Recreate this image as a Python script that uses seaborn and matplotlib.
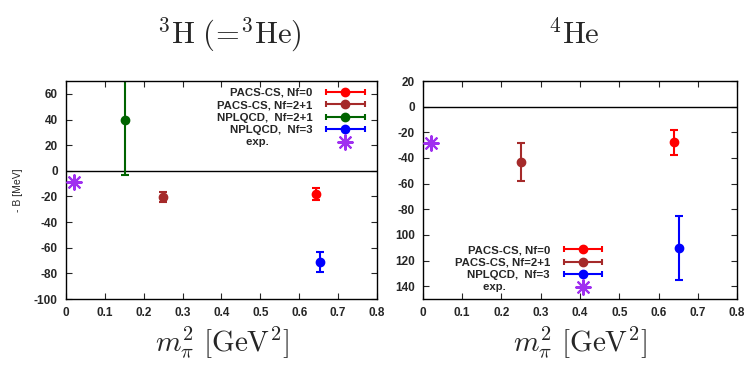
import numpy as np
import pandas as pd
import matplotlib
matplotlib.use("Agg")
import matplotlib.pyplot as plt
import seaborn as sns
from matplotlib.lines import Line2D
from matplotlib.legend_handler import HandlerBase
from matplotlib.container import ErrorbarContainer

sns.set_style("ticks")
plt.rcParams["font.family"] = ["Liberation Sans", "DejaVu Sans"]
plt.rcParams["font.weight"] = "bold"
plt.rcParams["mathtext.fontset"] = "cm"
plt.rcParams["axes.unicode_minus"] = False

# 3H data
h3_labels = ["PACS-CS, Nf=0", "PACS-CS, Nf=2+1", "NPLQCD,  Nf=2+1", "NPLQCD,  Nf=3"]
h3_x = [0.643, 0.250, 0.151, 0.653]
h3_y = [-18.2, -20.5, 40.0, -71.0]
h3_err = [4.5, 4.0, 43.5, 8.0]
h3_colors = ["#ff0000", "#a52a2a", "#006400", "#0000ff"]
h3_exp_x = [0.0195]
h3_exp_y = [-8.48]

# 4He data
he4_labels = ["PACS-CS, Nf=0", "PACS-CS, Nf=2+1", "NPLQCD,  Nf=3"]
he4_x = [0.639, 0.250, 0.651]
he4_y = [-27.9, -43.2, -110.5]
he4_err = [10.0, 14.5, 25.0]
he4_colors = ["#ff0000", "#a52a2a", "#0000ff"]
he4_exp_x = [0.0195]
he4_exp_y = [-28.3]

exp_color = "#a030f0"
exp_label = "exp.              "

he4_yticks = [20, 0, -20, -40, -60, -80, -100, -120, -140]
he4_yticklabels = ["20", "0", "-20", "-40", "-60", "-80", "100", "120", "140"]


class HErr(HandlerBase):
    # gnuplot-style horizontal errorbar key
    def create_artists(self, legend, orig_handle, xdescent, ydescent,
                       width, height, fontsize, trans):
        c = orig_handle.lines[0].get_color()
        y = height / 2 - ydescent
        x0, x1 = -xdescent, width - xdescent
        bar = Line2D([x0, x1], [y, y], color=c, lw=1.5, transform=trans)
        caps = Line2D([x0, x1], [y, y], color=c, ls="none", marker="|",
                      ms=5, mew=1.5, transform=trans)
        dot = Line2D([(x0 + x1) / 2], [y], color=c, ls="none", marker="o",
                     ms=6, transform=trans)
        return [bar, caps, dot]


def panel(ax, xs, ys, errs, colors, labels, ex, ey):
    ax.axhline(0, color="black", lw=1)
    for x, y, e, c, lab in zip(xs, ys, errs, colors, labels):
        ax.errorbar([x], [y], yerr=[e], fmt="o", color=c, ms=6,
                    elinewidth=1.5, capsize=3, capthick=1.5, label=lab)
    df = pd.DataFrame({"x": ex, "y": ey})
    sns.scatterplot(data=df, x="x", y="y", ax=ax, marker=(8, 2, 0), s=110,
                    color=exp_color, linewidth=1.5, label=exp_label, zorder=5)
    ax.set_xlim(0, 0.8)
    ax.set_xticks(np.arange(0, 0.81, 0.1))
    ax.set_xticklabels(["0", "0.1", "0.2", "0.3", "0.4", "0.5", "0.6", "0.7", "0.8"])
    ax.tick_params(direction="in", top=True, right=True, labelsize=8.5, length=4, pad=6)
    for s in ax.spines.values():
        s.set_linewidth(1)
        s.set_color("black")
    ax.set_xlabel(r"$m_\pi^2\ [\mathrm{GeV}^2]$", fontsize=21, labelpad=4)
    ax.set_ylabel("")


def key(ax, **kw):
    handles, labels = ax.get_legend_handles_labels()
    # errorbars first, exp. last
    order = [i for i, h in enumerate(handles) if isinstance(h, ErrorbarContainer)]
    order += [i for i in range(len(handles)) if i not in order]
    ax.legend([handles[i] for i in order], [labels[i] for i in order],
              markerfirst=False, frameon=False, fontsize=8.2, handlelength=3.4,
              handletextpad=1.2, labelspacing=0.2, borderpad=0.3,
              handler_map={ErrorbarContainer: HErr()}, **kw)


fig = plt.figure(figsize=(7.48, 3.66), dpi=100)
ax1 = fig.add_axes([0.0882, 0.183, 0.4158, 0.5956])
ax2 = fig.add_axes([0.5655, 0.183, 0.4198, 0.5956])

panel(ax1, h3_x, h3_y, h3_err, h3_colors, h3_labels, h3_exp_x, h3_exp_y)
ax1.set_ylim(-100, 70)
ax1.set_yticks(np.arange(-100, 61, 20))
ax1.set_ylabel("- B [MeV]", fontsize=7.5, labelpad=8)
key(ax1, loc="upper right", bbox_to_anchor=(0.99, 1.01))

panel(ax2, he4_x, he4_y, he4_err, he4_colors, he4_labels, he4_exp_x, he4_exp_y)
ax2.set_ylim(-150, 20)
ax2.set_yticks(he4_yticks)
ax2.set_yticklabels(he4_yticklabels)
key(ax2, loc="lower right", bbox_to_anchor=(0.60, -0.01))

fig.text(0.307, 0.905, r"$^{3}\mathrm{H}\ (\!=\!^{3}\mathrm{He})$", fontsize=22,
         ha="center", va="center")
fig.text(0.767, 0.905, r"$^{4}\mathrm{He}$", fontsize=22, ha="center", va="center")

fig.savefig("out.png", dpi=100)
